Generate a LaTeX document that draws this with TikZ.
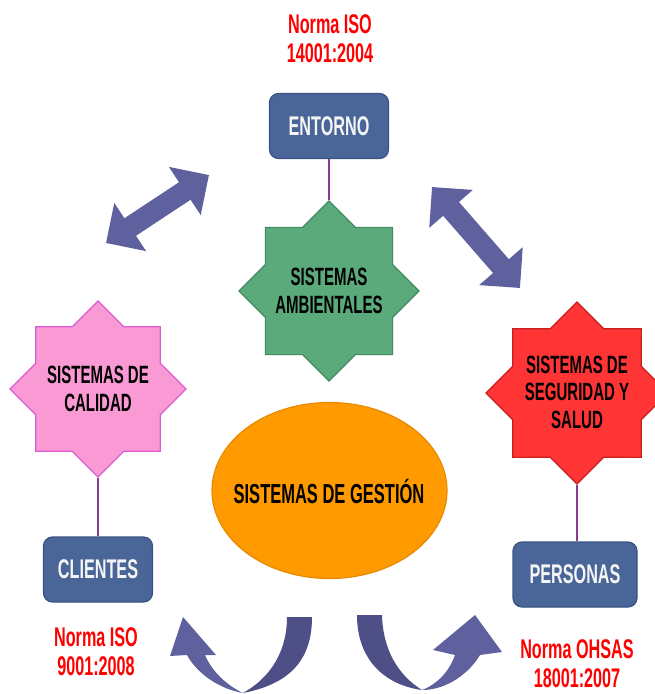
\documentclass[tikz,border=0pt]{standalone}
\usepackage{fontspec}
\newfontfamily\nf[FakeStretch=0.6, BoldFont={Liberation Sans Bold}]{Liberation Sans}
\usetikzlibrary{shapes.geometric,arrows.meta}
\definecolor{boxblue}{HTML}{4A6699}
\definecolor{boxborder}{HTML}{3A5383}
\definecolor{greenfill}{HTML}{5BAA7C}
\definecolor{greenline}{HTML}{3F8A5E}
\definecolor{pinkfill}{HTML}{FA9AD4}
\definecolor{pinkline}{HTML}{DA5CD2}
\definecolor{redfill}{HTML}{FF3535}
\definecolor{redline}{HTML}{C81E1E}
\definecolor{orangefill}{HTML}{FF9A00}
\definecolor{orangeline}{HTML}{E88A00}
\definecolor{linkpurple}{HTML}{8A3C8F}
\definecolor{arrowfill}{HTML}{5F609E}
\definecolor{arrowdark}{HTML}{4E4F86}
\definecolor{normred}{HTML}{FF0000}
\begin{document}
\begin{tikzpicture}[x=1pt,y=-1pt,
  boxtxt/.style={font=\nf\bfseries\fontsize{27}{30}\selectfont, text=white!96!black},
  bluebox/.style={rectangle, rounded corners=9pt, fill=boxblue, draw=boxborder, line width=1.2pt, minimum height=65pt, inner sep=0pt, boxtxt},
  octo/.style={star, star points=8, star point ratio=1.307, minimum size=#1, inner sep=0pt, line width=1.2pt},
  startxt/.style={font=\nf\bfseries\fontsize{25}{27.5}\selectfont, align=center, inner sep=0pt, text=black},
  normtxt/.style={font=\nf\bfseries\fontsize{27}{29}\selectfont, align=center, inner sep=0pt, text=normred},
  link/.style={draw=linkpurple, line width=1.1pt},
  dbl/.style={draw=arrowfill, line width=21pt, arrows={Triangle[width=56pt,length=29pt]-Triangle[width=56pt,length=29pt]}},
]
\useasboundingbox (0,0) rectangle (655,694);
\clip (0,0) rectangle (655,694);

% labels
\node[normtxt] (n14001) at (330,39) {Norma ISO\\14001:2004};
\node[normtxt] (n9001) at (96,652) {Norma ISO\\9001:2008};
\node[normtxt] (n18001) at (577,664) {Norma OHSAS\\18001:2007};

% boxes
\node[bluebox, minimum width=119pt] (entorno) at (329,126) {ENTORNO};
\node[bluebox, minimum width=109pt] (clientes) at (98,569.5) {CLIENTES};
\node[bluebox, minimum width=124pt] (personas) at (575,574.5) {PERSONAS};

% stars
\node[octo=180pt, fill=greenfill, draw=greenline] (ambiental) at (329,291) {};
\node[startxt] (ambientaltxt) at (ambiental) {SISTEMAS\\AMBIENTALES};
\node[octo=176pt, fill=pinkfill, draw=pinkline] (calidad) at (98,389) {};
\node[startxt] (calidadtxt) at (calidad) {SISTEMAS DE\\CALIDAD};
\node[octo=182pt, fill=redfill, draw=redline] (seguridad) at (577,393) {};
\node[startxt] (seguridadtxt) at (577,392) {SISTEMAS DE\\SEGURIDAD Y\\SALUD};

% ellipse
\node[ellipse, minimum width=235pt, minimum height=176pt, fill=orangefill, draw=orangeline, line width=1.2pt, inner sep=0pt] (gestion) at (329.5,490.5) {};
\node[startxt, font=\nf\bfseries\fontsize{27.5}{30}\selectfont] (gestiontxt) at (329,491) {SISTEMAS DE GESTIÓN};

% connectors
\draw[link] (entorno.south) -- (ambiental.north);
\draw[link] (calidad.south) -- (calidad.south |- clientes.north);
\draw[link] (seguridad.south) -- (seguridad.south |- personas.north);

% double arrows
\coordinate (dlA) at (106,243);
\coordinate (dlB) at (209,175);
\draw[dbl] (dlA) -- (dlB);
\coordinate (drA) at (432,187);
\coordinate (drB) at (520,288);
\draw[dbl] (drA) -- (drB);

% curved arrow left
\fill[arrowdark] (287,617) -- (312,617) .. controls (312,655) and (295,683) .. (243,693)
  .. controls (270,678) and (287,652) .. (287,617) -- cycle;
\fill[arrowfill] (243,693) .. controls (215,688) and (195,670) .. (187,655)
  -- (170,656) -- (183,617) -- (216,655) -- (205,655)
  .. controls (212,672) and (228,686) .. (243,693) -- cycle;

% curved arrow right
\fill[arrowdark] (357,615) -- (382,615) .. controls (383,650) and (398,675) .. (422,690)
  .. controls (385,685) and (357,660) .. (357,615) -- cycle;
\fill[arrowfill] (422,690) .. controls (448,690) and (470,672) .. (480,655)
  -- (502,652) -- (475,615) -- (433,650) -- (455,655)
  .. controls (450,670) and (438,684) .. (422,690) -- cycle;
\end{tikzpicture}
\end{document}
